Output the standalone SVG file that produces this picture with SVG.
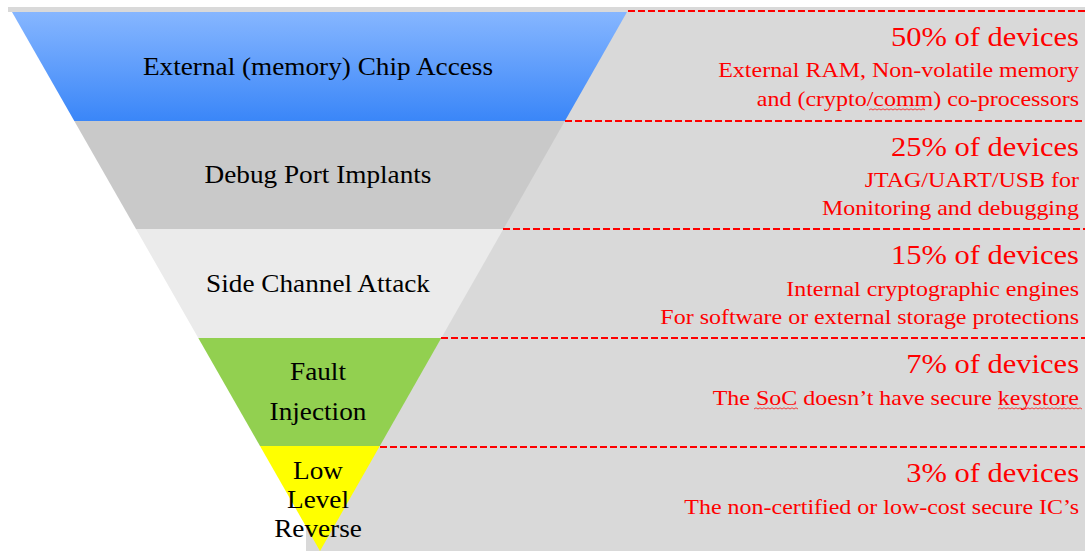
<svg xmlns="http://www.w3.org/2000/svg" width="1085" height="551" viewBox="0 0 1085 551">
<defs>
<linearGradient id="blueGrad" x1="0" y1="0" x2="0" y2="1">
<stop offset="0" stop-color="#86b6ff"/>
<stop offset="1" stop-color="#3a86f8"/>
</linearGradient>
<style>
.lbl{font-family:"Liberation Serif","Times New Roman",serif;font-size:25px;fill:#000;text-anchor:middle}
.big{font-family:"Liberation Serif","Times New Roman",serif;font-size:28px;fill:#ff0000;text-anchor:end}
.sub{font-family:"Liberation Serif","Times New Roman",serif;font-size:22px;fill:#ff0000;text-anchor:end}
.dash{stroke:#ff0000;stroke-width:2;stroke-dasharray:7 3;fill:none}
.squig{stroke:#ff0000;stroke-width:0.9;fill:none;opacity:0.8}
</style>
</defs>
<g id="background">
<rect x="8" y="7" width="1077" height="5" fill="#d9d9d9"/>
<rect x="306" y="7" width="779" height="544" fill="#d9d9d9"/>
</g>
<g id="funnel">
<g id="band-external">
<polygon points="12,12 627,12 564.9,121 74.3,121" fill="url(#blueGrad)"/>
<text class="lbl" transform="translate(318 75) scale(1.09 1)">External (memory) Chip Access</text>
</g>
<g id="band-debug">
<polygon points="74.3,121 564.9,121 503.4,229 136,229" fill="#c9c9c9"/>
<text class="lbl" transform="translate(318 183) scale(1.09 1)">Debug Port Implants</text>
</g>
<g id="band-side">
<polygon points="136,229 503.4,229 441.3,338 198.3,338" fill="#ebebeb"/>
<text class="lbl" transform="translate(318 292) scale(1.09 1)">Side Channel Attack</text>
</g>
<g id="band-fault">
<polygon points="198.3,338 441.3,338 379.8,446 260,446" fill="#92d050"/>
<text class="lbl" transform="translate(318 380) scale(1.09 1)">Fault</text>
<text class="lbl" transform="translate(318 420) scale(1.09 1)">Injection</text>
</g>
<g id="band-low">
<polygon points="260,446 379.8,446 320,551" fill="#ffff00"/>
<text class="lbl" transform="translate(318 479) scale(1.09 1)">Low</text>
<text class="lbl" transform="translate(318 508) scale(1.09 1)">Level</text>
<text class="lbl" transform="translate(318 537) scale(1.09 1)">Reverse</text>
</g>
</g>
<g id="connectors">
<line class="dash" x1="628" y1="11" x2="1085" y2="11"/>
<line class="dash" x1="565" y1="121" x2="1085" y2="121"/>
<line class="dash" x1="503" y1="229" x2="1085" y2="229"/>
<line class="dash" x1="441" y1="338" x2="1085" y2="338"/>
<line class="dash" x1="380" y1="447" x2="1085" y2="447"/>
</g>
<g id="info-50">
<text class="big" transform="translate(1079 46) scale(1.09 1)">50% of devices</text>
<text class="sub" transform="translate(1079 77) scale(1.09 1)">External RAM, Non-volatile memory</text>
<text class="sub" transform="translate(1079 106) scale(1.09 1)">and (crypto/comm) co-processors</text>
<path class="squig" d="M869,110 l2,-1.2 l2,1.2 l2,-1.2 l2,1.2 l2,-1.2 l2,1.2 l2,-1.2 l2,1.2 l2,-1.2 l2,1.2 l2,-1.2 l2,1.2 l2,-1.2 l2,1.2 l2,-1.2 l2,1.2 l2,-1.2 l2,1.2 l2,-1.2 l2,1.2 l2,-1.2 l2,1.2 l2,-1.2 l2,1.2 l2,-1.2 l2,1.2 l2,-1.2 l2,1.2"/>
</g>
<g id="info-25">
<text class="big" transform="translate(1079 156) scale(1.09 1)">25% of devices</text>
<text class="sub" transform="translate(1079 187) scale(1.09 1)">JTAG/UART/USB for</text>
<text class="sub" transform="translate(1079 215) scale(1.09 1)">Monitoring and debugging</text>
</g>
<g id="info-15">
<text class="big" transform="translate(1079 264) scale(1.09 1)">15% of devices</text>
<text class="sub" transform="translate(1079 296) scale(1.09 1)">Internal cryptographic engines</text>
<text class="sub" transform="translate(1079 324) scale(1.09 1)">For software or external storage protections</text>
</g>
<g id="info-7">
<text class="big" transform="translate(1079 373) scale(1.09 1)">7% of devices</text>
<text class="sub" transform="translate(1079 405) scale(1.09 1)">The SoC doesn’t have secure keystore</text>
<path class="squig" d="M754,409 l2,-1.2 l2,1.2 l2,-1.2 l2,1.2 l2,-1.2 l2,1.2 l2,-1.2 l2,1.2 l2,-1.2 l2,1.2 l2,-1.2 l2,1.2 l2,-1.2 l2,1.2 l2,-1.2 l2,1.2 l2,-1.2 l2,1.2 l2,-1.2 l2,1.2 l2,-1.2 l2,1.2"/>
<path class="squig" d="M998,409 l2,-1.2 l2,1.2 l2,-1.2 l2,1.2 l2,-1.2 l2,1.2 l2,-1.2 l2,1.2 l2,-1.2 l2,1.2 l2,-1.2 l2,1.2 l2,-1.2 l2,1.2 l2,-1.2 l2,1.2 l2,-1.2 l2,1.2 l2,-1.2 l2,1.2 l2,-1.2 l2,1.2 l2,-1.2 l2,1.2 l2,-1.2 l2,1.2 l2,-1.2 l2,1.2 l2,-1.2 l2,1.2 l2,-1.2 l2,1.2 l2,-1.2 l2,1.2 l2,-1.2 l2,1.2 l2,-1.2 l2,1.2 l2,-1.2 l2,1.2 l2,-1.2 l2,1.2"/>
</g>
<g id="info-3">
<text class="big" transform="translate(1079 482) scale(1.09 1)">3% of devices</text>
<text class="sub" transform="translate(1079 514) scale(1.09 1)">The non-certified or low-cost secure IC’s</text>
</g>
</svg>
